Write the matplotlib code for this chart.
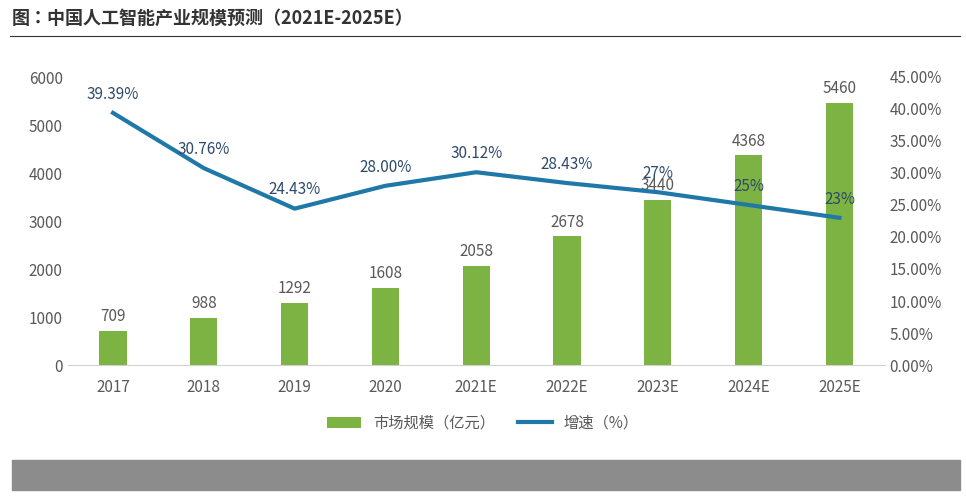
import matplotlib.pyplot as plt
import matplotlib.patches as mpatches
from matplotlib.ticker import FuncFormatter

plt.rcParams['font.family'] = ['Noto Sans CJK JP', 'Noto Sans CJK SC', 'Noto Sans CJK TC', 'DejaVu Sans']

years = ['2017', '2018', '2019', '2020', '2021E', '2022E', '2023E', '2024E', '2025E']
market = [709, 988, 1292, 1608, 2058, 2678, 3440, 4368, 5460]
growth = [39.39, 30.76, 24.43, 28.00, 30.12, 28.43, 27, 25, 23]
growth_labels = ['39.39%', '30.76%', '24.43%', '28.00%', '30.12%', '28.43%', '27%', '25%', '23%']

green = '#7cb342'
blue = '#1f78a8'
grey = '#595959'

fig = plt.figure(figsize=(9.66, 5), dpi=100)
ax = fig.add_axes([0.070, 0.27, 0.846, 0.576])
x = range(len(years))
ax.bar(x, market, width=0.3, color=green, label='市场规模（亿元）', zorder=2)
for i, v in enumerate(market):
    ax.text(i, v + 120, str(v), ha='center', va='bottom', fontsize=11, color=grey)
ax.set_ylim(0, 6000)
ax.set_yticks(range(0, 6001, 1000))
ax.set_xticks(list(x))
ax.set_xticklabels(years)
ax.set_xlim(-0.5, len(years) - 0.5)
for s in ['top', 'right', 'left']:
    ax.spines[s].set_visible(False)
ax.spines['bottom'].set_color('#d0d0d0')
ax.tick_params(length=0, labelsize=11, colors=grey)
ax.tick_params(axis='x', pad=10)

ax2 = ax.twinx()
ax2.plot(x, growth, color=blue, lw=3, label='增速（%）', zorder=3)
for i, (v, lab) in enumerate(zip(growth, growth_labels)):
    ax2.text(i, v + 1.6, lab, ha='center', va='bottom', fontsize=11, color='#2e4a6b')
ax2.set_ylim(0, 45)
ax2.set_yticks([i * 5 for i in range(10)])
ax2.yaxis.set_major_formatter(FuncFormatter(lambda v, p: f'{v:.2f}%'))
for s in ['top', 'right', 'left', 'bottom']:
    ax2.spines[s].set_visible(False)
ax2.tick_params(length=0, labelsize=11, colors=grey)

h1, l1 = ax.get_legend_handles_labels()
h2, l2 = ax2.get_legend_handles_labels()
fig.legend(h1 + h2, l1 + l2, loc='center', bbox_to_anchor=(0.5, 0.154), ncol=2,
           frameon=False, fontsize=11, labelcolor=grey, handlelength=2.2, columnspacing=1.5)

fig.text(0.012, 0.963, '图：中国人工智能产业规模预测（2021E-2025E）', fontsize=13,
         fontweight='bold', color='#333333', va='center')
fig.add_artist(plt.Line2D([0.010, 0.994], [0.928, 0.928], color='#333333', lw=0.8))
fig.add_artist(mpatches.Rectangle((0.012, 0.02), 0.982, 0.06, color='#8c8c8c', transform=fig.transFigure))

fig.savefig('out.png', dpi=100)
